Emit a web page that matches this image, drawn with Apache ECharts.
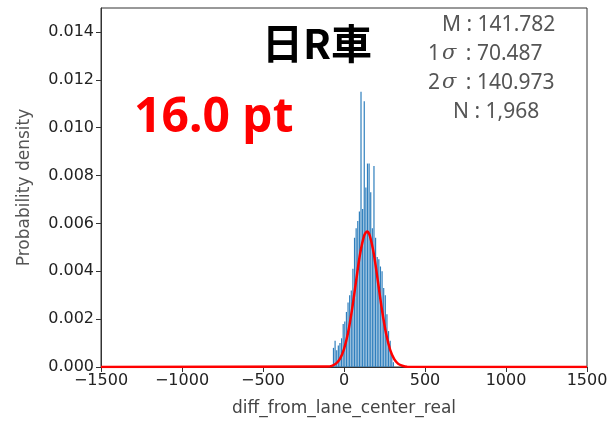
<!DOCTYPE html>
<html><head><meta charset="utf-8">
<script src="https://cdn.jsdelivr.net/npm/echarts@6/dist/echarts.min.js"></script>
<style>html,body{margin:0;padding:0;background:#fff}#c{width:613px;height:422px}</style>
</head><body><div id="c"></div>
<script>
// histogram bin centres and probability densities
var binCenters = [-65,-55,-45,-35,-25,-15,-5,5,15,25,35,45,55,65,75,85,95,105,115,125,135,145,155,165,175,185,195,205,215,225,235,245,255,265,275,285,295,305];
var densities  = [0.0008,0.0011,0.0007,0.0009,0.0010,0.0012,0.0018,0.0019,0.0023,0.0027,0.0030,0.0032,0.0041,0.0054,0.0058,0.0061,0.0065,0.0115,0.0066,0.0111,0.0075,0.0085,0.0085,0.0073,0.0058,0.0084,0.0054,0.0046,0.0045,0.0042,0.0040,0.0033,0.0030,0.0022,0.0015,0.0011,0.0005,0.0002];
// fitted curve
var curveX = [-1500,-100,-75,-50,-25,0,25,50,75,100,125,142,160,185,210,235,260,285,310,335,360,390,1500];
var curveY = [0,0.00002,0.00005,0.00014,0.00034,0.00075,0.00143,0.00242,0.00361,0.00475,0.0055,0.00566,0.00547,0.00469,0.00354,0.00236,0.00139,0.00072,0.00033,0.00013,0.00005,0.00001,0];
var yTicks = [0,0.002,0.004,0.006,0.008,0.010,0.012,0.014];
var xTicks = [-1500,-1000,-500,0,500,1000,1500];
var title = '日R車';
var ptLabel = '16.0 pt';
var stats = [['M', ' : 141.782'], ['1σ', ' : 70.487'], ['2σ', ' : 140.973'], ['N', ' : 1,968']];

var chart = echarts.init(document.getElementById('c'), null, {renderer: 'canvas'});
var barData = binCenters.map(function (x, i) { return [x, densities[i]]; });
var lineData = curveX.map(function (x, i) { return [x, curveY[i]]; });

function statText(s) {
  var lab = s[0];
  if (lab.indexOf('σ') >= 0) {
    return '{n|' + lab.charAt(0) + '}{s|σ}{n|' + s[1] + '}';
  }
  return '{n|' + lab + s[1] + '}';
}
var statPos = [[442, 25], [428, 54], [428, 83], [453, 112]];
var graphics = [
  {type: 'text', left: 262, top: 23, z: 100, style: {text: title, font: 'bold 41px "Noto Sans CJK JP"', fill: '#000'}},
  {type: 'text', left: 134, top: 94, z: 100, style: {text: ptLabel, font: 'bold 48px "Noto Sans"', fill: '#ff0000'}}
];
stats.forEach(function (s, i) {
  graphics.push({type: 'text', x: statPos[i][0], y: statPos[i][1], z: 100,
    style: {text: statText(s), verticalAlign: 'middle', align: 'left',
      rich: {n: {font: '21px "Noto Sans"', fill: '#555'}, s: {font: 'italic 21px "DejaVu Serif"', fill: '#555', padding: [0, 4, 0, 2]}}}});
});

chart.setOption({
  animation: false,
  grid: {left: 101, right: 26, top: 8, bottom: 52, show: true, borderColor: '#333', borderWidth: 1},
  xAxis: {
    type: 'value', min: -1500, max: 1500, interval: 500,
    name: 'diff_from_lane_center_real', nameLocation: 'middle', nameGap: 33,
    nameTextStyle: {fontFamily: 'DejaVu Sans', fontSize: 17, color: '#444'},
    axisLine: {show: true, onZero: false, lineStyle: {color: '#333'}},
    axisTick: {show: true, length: 5, lineStyle: {color: '#333'}, customValues: xTicks},
    axisLabel: {fontFamily: 'DejaVu Sans', fontSize: 16, color: '#222', margin: 6, customValues: xTicks,
      formatter: function (v) { return String(v).replace('-', '\u2212'); }},
    splitLine: {show: false}
  },
  yAxis: {
    type: 'value', min: 0, max: 0.015,
    name: 'Probability density', nameLocation: 'middle', nameGap: 68,
    nameTextStyle: {fontFamily: 'DejaVu Sans', fontSize: 17, color: '#555'},
    axisLine: {show: true, onZero: false, lineStyle: {color: '#333'}},
    axisTick: {show: true, length: 5, lineStyle: {color: '#333'}, customValues: yTicks},
    axisLabel: {fontFamily: 'DejaVu Sans', fontSize: 16, color: '#222', margin: 7, customValues: yTicks,
      formatter: function (v) { return v.toFixed(3); }},
    splitLine: {show: false}
  },
  series: [
    {type: 'bar', data: barData, barWidth: 1.2, itemStyle: {color: '#2f7fbd'}, z: 2},
    {type: 'line', data: lineData, smooth: 0.3, symbol: 'none', lineStyle: {color: '#ff0000', width: 2.5}, z: 3}
  ],
  graphic: graphics
});
</script></body></html>
